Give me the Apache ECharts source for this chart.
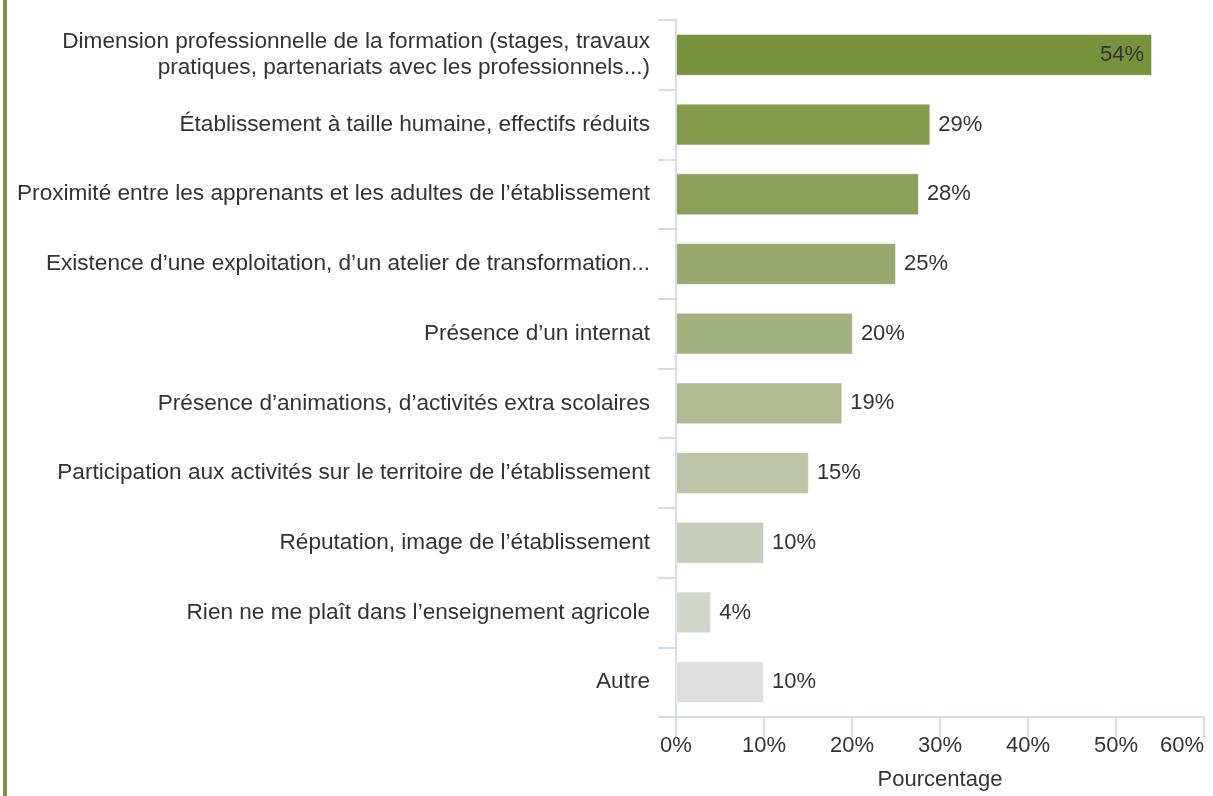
<!DOCTYPE html>
<html>
    <head>
        <meta charset="utf-8">
        <script src="https://cdn.jsdelivr.net/npm/echarts@6/dist/echarts.min.js"></script>
        <style>
            html, body { margin: 0; padding: 0; background: #fff; }
            #bord { position: absolute; left: 3px; top: 0; width: 4px; height: 796px; background: #76923c; }
            #chart { position: absolute; left: 0; top: 0; width: 1213px; height: 796px; }
        </style>
    </head>
    <body>
    <div id="bord"></div>
    <div id="chart"></div>
    <script>
        // categories, top to bottom
        var categories = [
            'Dimension professionnelle de la formation (stages, travaux\npratiques, partenariats avec les professionnels...)',
            'Établissement à taille humaine, effectifs réduits',
            'Proximité entre les apprenants et les adultes de l’établissement',
            'Existence d’une exploitation, d’un atelier de transformation...',
            'Présence d’un internat',
            'Présence d’animations, d’activités extra scolaires',
            'Participation aux activités sur le territoire de l’établissement',
            'Réputation, image de l’établissement',
            'Rien ne me plaît dans l’enseignement agricole',
            'Autre'
        ];
        // pourcentages
        var values = [54.1, 28.9, 27.6, 25.0, 20.1, 18.9, 15.1, 10.0, 4.0, 10.0];
        var ticks = [0, 10, 20, 30, 40, 50, 60];

        var colors = ['#76923c', '#83994c', '#8c9f5b', '#98a86e', '#a3b17e',
                      '#b0bb94', '#bcc5a7', '#c8cebb', '#d3d7cb', '#dedede'];
        var font = '"Liberation Sans", Arial, sans-serif';
        var fs = 22;
        var axisCol = '#d3dbef';

        var barData = values.map(function (v, i) {
            return {
                value: v,
                itemStyle: {color: colors[i]},
                label: {position: i === 0 ? 'insideRight' : 'right'}
            };
        });

        var chart = echarts.init(document.getElementById('chart'));
        chart.setOption({
            animation: false,
            grid: {left: 676, right: 9, top: 20, bottom: 76},
            xAxis: {
                type: 'value',
                min: ticks[0],
                max: ticks[ticks.length - 1],
                interval: 10,
                name: 'Pourcentage',
                nameLocation: 'middle',
                nameGap: 52,
                nameTextStyle: {fontFamily: font, fontSize: fs, color: '#333'},
                axisLine: {show: true, lineStyle: {color: axisCol, width: 2}},
                axisTick: {show: true, length: 20, lineStyle: {color: axisCol, width: 2}},
                axisLabel: {
                    formatter: '{value}%', fontFamily: font, fontSize: fs, color: '#333',
                    margin: 18, alignMaxLabel: 'right'
                },
                splitLine: {show: false}
            },
            yAxis: {
                type: 'category',
                data: categories,
                inverse: true,
                axisLine: {show: true, lineStyle: {color: axisCol, width: 2}},
                axisTick: {show: true, length: 18, lineStyle: {color: axisCol, width: 2}},
                axisLabel: {
                    fontFamily: font, fontSize: 22.6, color: '#333',
                    margin: 26, lineHeight: 26, align: 'right'
                }
            },
            series: [{
                type: 'bar',
                data: barData,
                barCategoryGap: '40%',
                itemStyle: {
                    borderColor: 'rgba(255,255,255,0.5)',
                    borderWidth: 1
                },
                label: {
                    show: true,
                    distance: 8,
                    formatter: function (p) { return Math.round(p.value) + '%'; },
                    fontFamily: font, fontSize: fs, color: '#333'
                }
            }]
        });
    </script>
    </body>
</html>
